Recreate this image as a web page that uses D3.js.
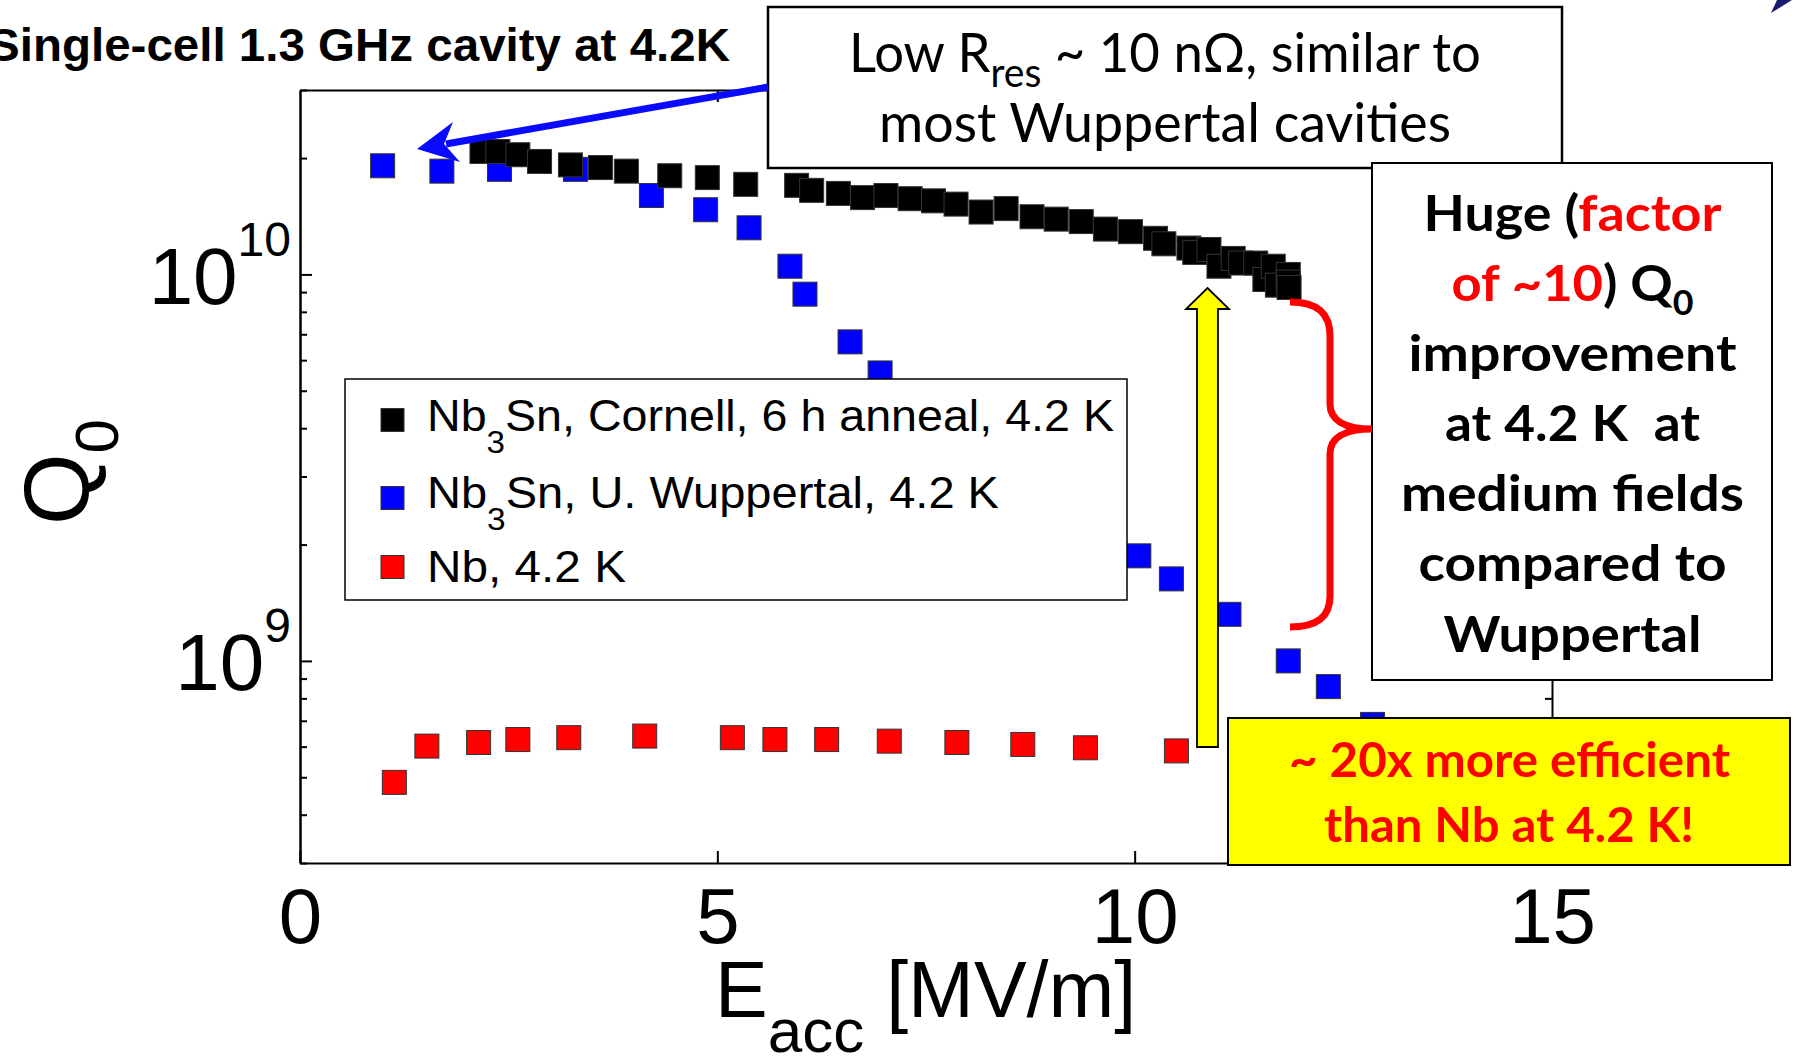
<!DOCTYPE html>
<html><head><meta charset="utf-8">
<script src="https://cdn.jsdelivr.net/npm/d3@7"></script>
<style>html,body{margin:0;padding:0;background:#fff;overflow:hidden}</style>
</head><body>
<svg id="chart" width="1803" height="1060"></svg>
<script>
// ---------- data ----------
const cornellE = [2.18,2.37,2.61,2.87,3.24,3.60,3.91,4.43,4.88,5.34,5.95,6.13,6.45,6.74,7.02,7.31,7.59,7.86,8.16,8.46,8.77,9.06,9.36,9.65,9.95,10.25,10.35,10.65,10.72,10.89,11.01,11.18,11.27,11.45,11.56,11.66,11.71,11.84,11.84,11.85];
const cornellQ = [2.08e10,2.08e10,2.04e10,1.96e10,1.92e10,1.89e10,1.85e10,1.80e10,1.78e10,1.71e10,1.70e10,1.65e10,1.62e10,1.58e10,1.60e10,1.57e10,1.55e10,1.52e10,1.45e10,1.48e10,1.41e10,1.39e10,1.37e10,1.31e10,1.29e10,1.24e10,1.20e10,1.17e10,1.14e10,1.16e10,1.05e10,1.10e10,1.07e10,1.07e10,9.7e9,1.05e10,9.38e9,1.00e10,9.55e9,9.25e9];
const wuppE = [0.99,1.70,2.39,3.30,4.21,4.86,5.38,5.87,6.05,6.59,6.95,10.05,10.44,11.13,11.84,12.32,12.85];
const wuppQ = [1.91e10,1.85e10,1.87e10,1.87e10,1.60e10,1.47e10,1.32e10,1.05e10,8.89e9,6.69e9,5.56e9,1.87e9,1.63e9,1.32e9,1.0e9,8.58e8,6.85e8];
const nbE = [1.13,1.52,2.14,2.61,3.22,4.13,5.18,5.69,6.31,7.06,7.87,8.66,9.41,10.50];
const nbQ = [4.85e8,6.02e8,6.15e8,6.26e8,6.33e8,6.39e8,6.33e8,6.26e8,6.26e8,6.20e8,6.15e8,6.08e8,5.96e8,5.85e8];
const legendParts = [["Nb","3","Sn, Cornell, 6 h anneal, 4.2 K"],["Nb","3","Sn, U. Wuppertal, 4.2 K"],["Nb, 4.2 K","",""]];
const seriesColors = ["#000000","#0000ff","#ff0000"];
const xTickValues = [0,5,10,15];
const yMajorTicks = [1e9,1e10];
const yMinorTicks = [3e8,4e8,5e8,6e8,7e8,8e8,9e8,2e9,3e9,4e9,5e9,6e9,7e9,8e9,9e9,2e10,3e10];
const yTickExp = {1e9:"9", 1e10:"10"};

// ---------- layout ----------
const svg = d3.select("#chart");
const L = 300, R = 1552, T = 90, B = 863;
const x = d3.scaleLinear().domain([0,15]).range([L,R]);
const y = d3.scaleLog().domain([3e8,3e10]).range([B,T]);
const AX = "Liberation Sans, Arial, Helvetica, sans-serif";
const CAL = "Lato, Carlito, Calibri, sans-serif";

// axes
function styleAxis(g){ g.selectAll("path,line").attr("stroke","#000").attr("stroke-width",2); }
svg.append("g").attr("transform",`translate(${L},0)`)
  .call(d3.axisLeft(y).tickValues(yMinorTicks).tickSize(-7).tickSizeOuter(0).tickFormat(""))
  .call(styleAxis);
svg.append("g").attr("transform",`translate(${R},0)`)
  .call(d3.axisRight(y).tickValues(yMinorTicks.concat(yMajorTicks)).tickSize(-7).tickSizeOuter(0).tickFormat(""))
  .call(styleAxis);
const yMaj = svg.append("g").attr("transform",`translate(${L},0)`)
  .call(d3.axisLeft(y).tickValues(yMajorTicks).tickSize(-12).tickSizeOuter(0).tickPadding(9).tickFormat(""))
  .call(styleAxis);
yMaj.selectAll(".tick text").each(function(d){
  const t = d3.select(this).attr("dy",null).attr("font-family",AX).attr("fill","#000").attr("text-anchor","end");
  t.append("tspan").attr("dy",29).attr("font-size",80).text("10");
  t.append("tspan").attr("dy",-48).attr("font-size",48).text(yTickExp[d]);
});
const xAx = svg.append("g").attr("transform",`translate(0,${B})`)
  .call(d3.axisBottom(x).tickValues(xTickValues).tickSize(-12).tickSizeOuter(0).tickFormat(d3.format("d")))
  .call(styleAxis);
xAx.selectAll(".tick text").attr("y",80).attr("dy",0).attr("font-size",78).attr("font-family",AX).attr("fill","#000");
svg.append("g").attr("transform",`translate(0,${T})`)
  .call(d3.axisTop(x).tickValues([5,10]).tickSize(-12).tickSizeOuter(0).tickFormat(""))
  .call(styleAxis);

// axis labels
const xl = svg.append("text").attr("x",715).attr("y",1017).attr("font-family",AX).attr("font-size",79).attr("fill","#000");
xl.append("tspan").text("E");
xl.append("tspan").attr("dy",35).attr("font-size",62).text("acc");
xl.append("tspan").attr("dy",-35).text(" [MV/m]");
const yl = svg.append("text").attr("transform","translate(88,525) rotate(-90)").attr("font-family",AX).attr("font-size",92).attr("fill","#000");
yl.append("tspan").text("Q");
yl.append("tspan").attr("dy",30).attr("font-size",62).text("0");

// title
svg.append("text").attr("x",-12).attr("y",61).attr("font-family",AX).attr("font-weight","bold")
  .attr("font-size",47).attr("textLength",742).attr("lengthAdjust","spacingAndGlyphs").attr("fill","#000")
  .text("Single-cell 1.3 GHz cavity at 4.2K");

// markers
const M = 24;
function plotSeries(E,Q,color){
  svg.append("g").selectAll("rect").data(E.map((e,i)=>[e,Q[i]])).join("rect")
    .attr("x",d=>x(d[0])-M/2).attr("y",d=>y(d[1])-M/2).attr("width",M).attr("height",M)
    .attr("fill",color).attr("stroke","#333").attr("stroke-width",1);
}
plotSeries(nbE,nbQ,seriesColors[2]);
plotSeries(wuppE,wuppQ,seriesColors[1]);
plotSeries(cornellE,cornellQ,seriesColors[0]);

// legend
svg.append("rect").attr("x",345).attr("y",379).attr("width",782).attr("height",221)
  .attr("fill","#fff").attr("stroke","#000").attr("stroke-width",1.5);
const legY = [420,498,567], legBase = [431,508,582], legLen = [687,572,199];
legendParts.forEach((p,i)=>{
  svg.append("rect").attr("x",381).attr("y",legY[i]-11.5).attr("width",23).attr("height",23)
    .attr("fill",seriesColors[i]).attr("stroke","#333").attr("stroke-width",1);
  const t = svg.append("text").attr("x",427).attr("y",legBase[i]).attr("font-family",AX).attr("font-size",45)
    .attr("fill","#000").attr("textLength",legLen[i]).attr("lengthAdjust","spacingAndGlyphs");
  t.append("tspan").text(p[0]);
  if(p[1]){
    t.append("tspan").attr("dy",22).attr("font-size",32).text(p[1]);
    t.append("tspan").attr("dy",-22).text(p[2]);
  }
});

// "Low Rres" box + blue arrow
svg.append("rect").attr("x",768).attr("y",7).attr("width",794).attr("height",161)
  .attr("fill","#fff").attr("stroke","#000").attr("stroke-width",2.5);
const low1 = svg.append("text").attr("x",1165).attr("y",72).attr("text-anchor","middle").attr("font-family",CAL)
  .attr("font-size",54).attr("fill","#000").attr("textLength",632).attr("lengthAdjust","spacingAndGlyphs");
low1.append("tspan").text("Low R");
low1.append("tspan").attr("dy",15).attr("font-size",40).text("res");
low1.append("tspan").attr("dy",-15).text(" ~ 10 nΩ, similar to");
svg.append("text").attr("x",1165).attr("y",142).attr("text-anchor","middle").attr("font-family",CAL)
  .attr("font-size",54).attr("fill","#000").attr("textLength",572).attr("lengthAdjust","spacingAndGlyphs")
  .text("most Wuppertal cavities");
svg.append("line").attr("x1",768).attr("y1",87).attr("x2",446).attr("y2",144)
  .attr("stroke","#0a0aff").attr("stroke-width",7);
svg.append("polygon").attr("points","417,149 453,122 444,144 460,162").attr("fill","#0a0aff");

// Huge box
svg.append("rect").attr("x",1372).attr("y",163).attr("width",400).attr("height",517)
  .attr("fill","#fff").attr("stroke","#000").attr("stroke-width",2);
const hugeLines = [
  {y:231,len:298,parts:[["Huge (","#000"],["factor","#ff0000"]]},
  {y:301,len:242,parts:[["of ~10","#ff0000"],[") Q","#000"],["0","#000","sub"]]},
  {y:371,len:328,parts:[["improvement","#000"]]},
  {y:441,len:255,parts:[["at 4.2 K  at","#000"]]},
  {y:511,len:343,parts:[["medium fields","#000"]]},
  {y:581,len:308,parts:[["compared to","#000"]]},
  {y:652,len:258,parts:[["Wuppertal","#000"]]}
];
hugeLines.forEach(l=>{
  const t = svg.append("text").attr("x",1572.5).attr("y",l.y).attr("text-anchor","middle").attr("font-family",CAL)
    .attr("font-weight","bold").attr("font-size",50).attr("textLength",l.len).attr("lengthAdjust","spacingAndGlyphs")
    .style("white-space","pre");
  l.parts.forEach(p=>{
    const s = t.append("tspan").attr("fill",p[1]).text(p[0]);
    if(p[2]==="sub") s.attr("dy",14).attr("font-size",34);
  });
});

// red brace
svg.append("path")
  .attr("d","M1290,302 C1318,302 1330,314 1330,336 L1330,404 C1330,420 1344,429 1372,429 C1344,429 1330,438 1330,454 L1330,596 C1330,616 1318,627 1290,627")
  .attr("fill","none").attr("stroke","#ff0000").attr("stroke-width",7);

// yellow arrow
svg.append("polygon").attr("points","1207.5,288 1229,309 1218,309 1218,747 1197,747 1197,309 1186,309")
  .attr("fill","#ffff00").attr("stroke","#000").attr("stroke-width",1.8);

// yellow box
svg.append("rect").attr("x",1228).attr("y",718).attr("width",562).attr("height",147)
  .attr("fill","#ffff00").attr("stroke","#000").attr("stroke-width",2);
svg.append("text").attr("x",1509.5).attr("y",777).attr("text-anchor","middle").attr("font-family",CAL)
  .attr("font-weight","bold").attr("font-size",48).attr("fill","#ff0000").attr("textLength",441).attr("lengthAdjust","spacingAndGlyphs")
  .text("~ 20x more efficient");
svg.append("text").attr("x",1509).attr("y",842).attr("text-anchor","middle").attr("font-family",CAL)
  .attr("font-weight","bold").attr("font-size",48).attr("fill","#ff0000").attr("textLength",370).attr("lengthAdjust","spacingAndGlyphs")
  .text("than Nb at 4.2 K!");

// slide corner artifact
svg.append("polygon").attr("points","1771,13 1777,0 1792,0").attr("fill","#1c1c6e");
</script>
</body></html>
